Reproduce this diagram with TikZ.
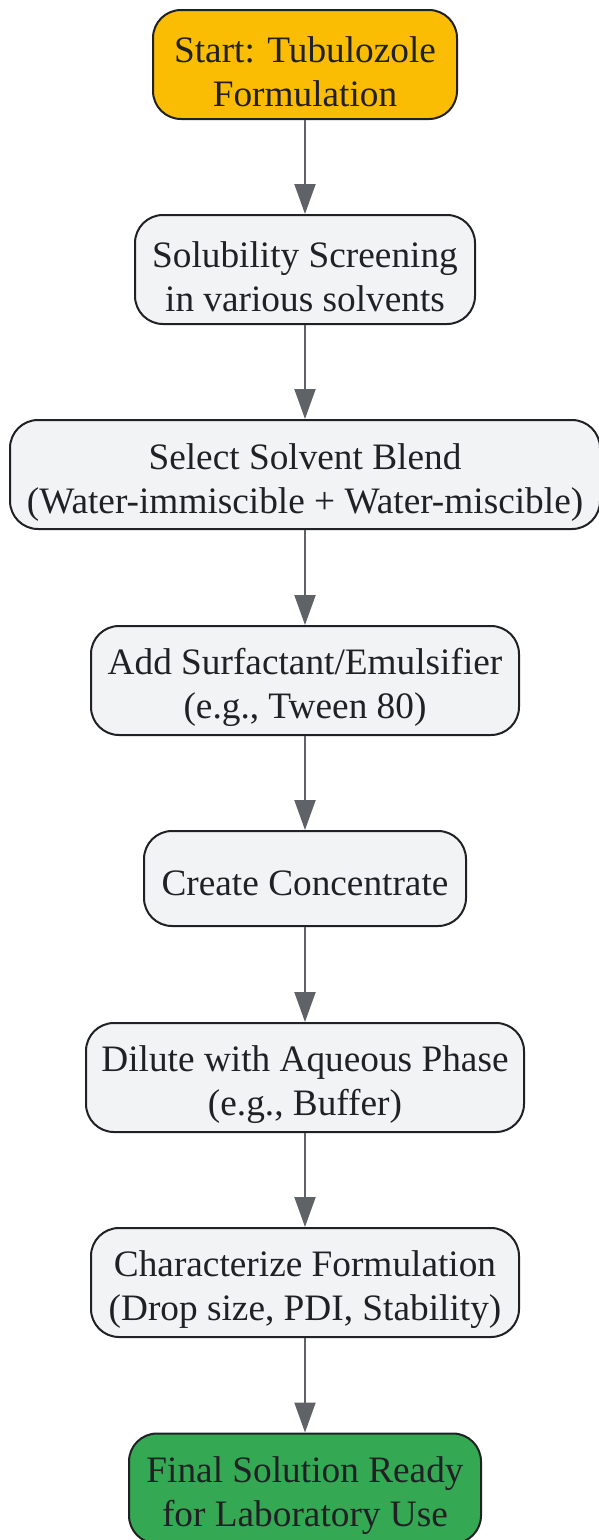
\documentclass[tikz,border=0pt]{standalone}
\usepackage{fontspec}
\setmainfont{Liberation Serif}
\usetikzlibrary{arrows.meta}
\definecolor{boxgray}{HTML}{F1F3F4}
\definecolor{boxline}{HTML}{202124}
\definecolor{startyellow}{HTML}{FBBC04}
\definecolor{endgreen}{HTML}{34A853}
\definecolor{arrowgray}{HTML}{5F6368}
\newcommand{\lowerstrut}{\rule{0pt}{41pt}}
\tikzset{
  flowbox/.style={draw=boxline, line width=2pt, rounded corners=28pt, fill=boxgray,
    align=center, inner sep=0pt, text=boxline,
    font=\fontsize{37.3}{44}\selectfont},
  flowarrow/.style={draw=arrowgray, line width=2pt, -{Triangle[length=30pt,width=21pt]}}
}
\begin{document}
\begin{tikzpicture}[x=1pt,y=-1pt]
\useasboundingbox (0,0) rectangle (598,1540);
\node[flowbox, fill=startyellow, minimum width=304pt, minimum height=109pt] (n1) at (305,64.5) {\lowerstrut Start: Tubulozole\\Formulation};
\node[flowbox, minimum width=340pt, minimum height=109pt] (n2) at (305,269.5) {\lowerstrut Solubility Screening\\in various solvents};
\node[flowbox, minimum width=590pt, minimum height=109pt] (n3) at (305,474.5) {\lowerstrut Select Solvent Blend\\(Water-immiscible + Water-miscible)};
\node[flowbox, minimum width=428pt, minimum height=109pt] (n4) at (305,680.5) {\lowerstrut Add Surfactant/Emulsifier\\(e.g., Tween 80)};
\node[flowbox, minimum width=322pt, minimum height=95pt] (n5) at (305,878.5) {\rule{0pt}{35pt}Create Concentrate};
\node[flowbox, minimum width=438pt, minimum height=109pt] (n6) at (305,1077.5) {\lowerstrut Dilute with Aqueous Phase\\(e.g., Buffer)};
\node[flowbox, minimum width=428pt, minimum height=109pt] (n7) at (305,1282.5) {\lowerstrut Characterize Formulation\\(Drop size, PDI, Stability)};
\node[flowbox, fill=endgreen, minimum width=352pt, minimum height=110pt] (n8) at (305,1488.5) {\lowerstrut Final Solution Ready\\for Laboratory Use};
\draw[flowarrow] (n1) -- (n2);
\draw[flowarrow] (n2) -- (n3);
\draw[flowarrow] (n3) -- (n4);
\draw[flowarrow] (n4) -- (n5);
\draw[flowarrow] (n5) -- (n6);
\draw[flowarrow] (n6) -- (n7);
\draw[flowarrow] (n7) -- (n8);
\end{tikzpicture}
\end{document}
